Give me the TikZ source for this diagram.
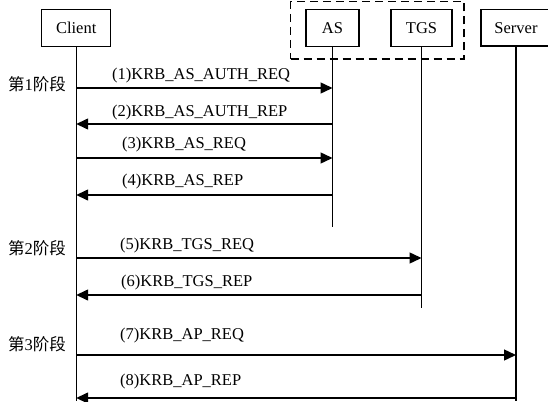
\documentclass[tikz,border=0pt]{standalone}
\usepackage{fontspec}
\setmainfont{Liberation Serif}
\newfontfamily\cjk{Noto Sans CJK SC}
\usetikzlibrary{arrows.meta}

\begin{document}
\begin{tikzpicture}[x=1pt,y=-1pt,
  every node/.style={font=\fontsize{16.5}{19}\selectfont},
  party/.style={draw,line width=1.1pt,minimum height=36.7pt,inner sep=0pt,anchor=center},
  lifeline/.style={line width=1.2pt},
  msg/.style={line width=1.4pt,-{Triangle[length=12pt,width=11pt]}},
  msglabel/.style={anchor=base west,inner sep=0pt},
  stage/.style={anchor=west,inner sep=0pt},
  group/.style={line width=1.5pt,dash pattern=on 8pt off 5pt}]
  \useasboundingbox (0,0) rectangle (548,401);
  \clip (0,0) rectangle (548,401);

  % participants
  \node[party,minimum width=69pt] (client) at (76.2,28.3) {Client};
  \node[party,minimum width=53pt] (as)     at (332.5,28.3) {AS};
  \node[party,minimum width=61pt] (tgs)    at (421.5,28.3) {TGS};
  \node[party,minimum width=70pt] (server) at (516,27.7) {Server};

  % KDC group (AS + TGS)
  \node[group,draw,minimum width=173.3pt,minimum height=57.3pt,inner sep=0pt]
    (kdc) at (377.35,30.35) {};

  % lifeline ends
  \coordinate (endrow) at (0,401);
  \coordinate (asend)  at (0,227);
  \coordinate (tgsend) at (0,308);
  \draw[lifeline] (client.south) -- (client.south |- endrow);
  \draw[lifeline] (as.south)     -- (as.south |- asend);
  \draw[lifeline] (tgs.south)    -- (tgs.south |- tgsend);
  \draw[lifeline] (server.south) -- (server.south |- endrow);

  % message rows
  \coordinate (m1) at (0,88);
  \coordinate (m2) at (0,124);
  \coordinate (m3) at (0,158);
  \coordinate (m4) at (0,195);
  \coordinate (m5) at (0,258);
  \coordinate (m6) at (0,295);
  \coordinate (m7) at (0,355);
  \coordinate (m8) at (0,398);

  \draw[msg] (client |- m1) -- (as |- m1);
  \draw[msg] (as |- m2) -- (client |- m2);
  \draw[msg] (client |- m3) -- (as |- m3);
  \draw[msg] (as |- m4) -- (client |- m4);
  \draw[msg] (client |- m5) -- (tgs |- m5);
  \draw[msg] (tgs |- m6) -- (client |- m6);
  \draw[msg] (client |- m7) -- (server |- m7);
  \draw[msg] (server |- m8) -- (client |- m8);

  % message labels
  \node[msglabel] (l1) at (112,80)  {(1)KRB\_AS\_AUTH\_REQ};
  \node[msglabel] (l2) at (112,117) {(2)KRB\_AS\_AUTH\_REP};
  \node[msglabel] (l3) at (122,148) {(3)KRB\_AS\_REQ};
  \node[msglabel] (l4) at (122,185) {(4)KRB\_AS\_REP};
  \node[msglabel] (l5) at (120,249) {(5)KRB\_TGS\_REQ};
  \node[msglabel] (l6) at (121,286) {(6)KRB\_TGS\_REP};
  \node[msglabel] (l7) at (120,339) {(7)KRB\_AP\_REQ};
  \node[msglabel] (l8) at (120,385) {(8)KRB\_AP\_REP};

  % phase labels
  \node[stage] (s1) at (8,84.5) {{\cjk 第}1{\cjk 阶段}};
  \node[stage] (s2) at (8,248)  {{\cjk 第}2{\cjk 阶段}};
  \node[stage] (s3) at (8,344)  {{\cjk 第}3{\cjk 阶段}};
\end{tikzpicture}
\end{document}
